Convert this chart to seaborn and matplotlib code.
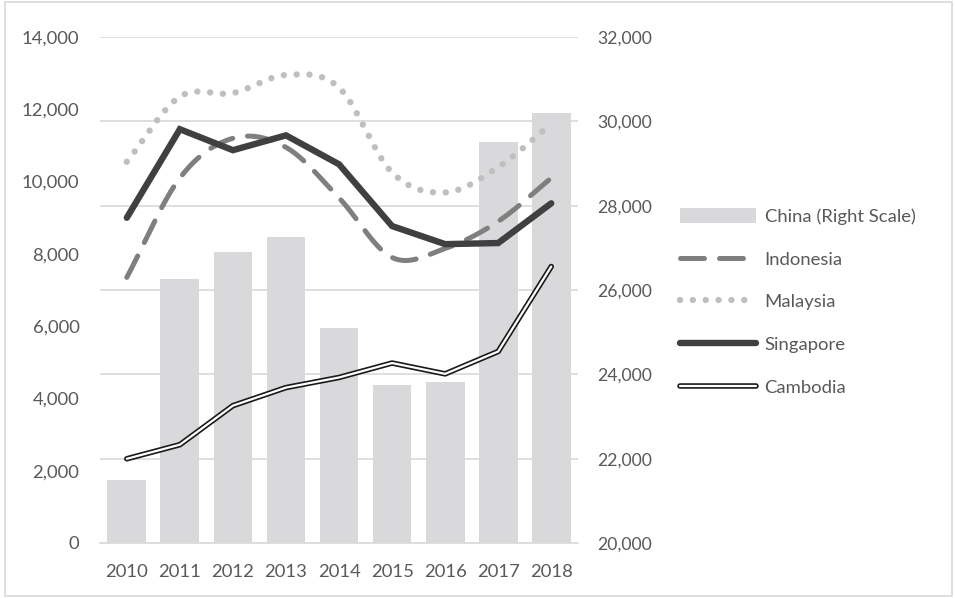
import numpy as np
import pandas as pd
import matplotlib
matplotlib.use("Agg")
import matplotlib.pyplot as plt
import matplotlib.patheffects as pe
from matplotlib.lines import Line2D
from matplotlib.patches import Patch, Rectangle
import seaborn as sns

years = ["2010", "2011", "2012", "2013", "2014", "2015", "2016", "2017", "2018"]
china = [21500, 26250, 26900, 27250, 25100, 23750, 23820, 29500, 30200]
indonesia = [7350, 10100, 11200, 10950, 9550, 7900, 8150, 8900, 10100]
malaysia = [10550, 12350, 12450, 12950, 12600, 10250, 9700, 10400, 11600]
singapore = [9000, 11450, 10870, 11280, 10480, 8770, 8270, 8300, 9400]
cambodia = [2330, 2720, 3800, 4300, 4580, 4980, 4680, 5300, 7650]

left_ticks = [0, 2000, 4000, 6000, 8000, 10000, 12000, 14000]
right_ticks = [20000, 22000, 24000, 26000, 28000, 30000, 32000]

TEXT = "#595959"
GRID = "#d9d9d9"
FS = 13.3

sns.set_theme(style="white")
plt.rcParams["font.family"] = ["Lato", "DejaVu Sans"]


def smooth_path(xs, ys, steps=24):
    """Catmull-Rom curve through the given points (used for smoothed series)."""
    xs = np.asarray(xs, float)
    ys = np.asarray(ys, float)
    px = np.concatenate([[2 * xs[0] - xs[1]], xs, [2 * xs[-1] - xs[-2]]])
    py = np.concatenate([[2 * ys[0] - ys[1]], ys, [2 * ys[-1] - ys[-2]]])
    ox, oy = [], []
    for i in range(1, len(px) - 2):
        t = np.linspace(0, 1, steps, endpoint=(i == len(px) - 3))
        for arr, out in ((px, ox), (py, oy)):
            p0, p1, p2, p3 = arr[i - 1], arr[i], arr[i + 1], arr[i + 2]
            out.extend(0.5 * ((2 * p1) + (-p0 + p2) * t
                              + (2 * p0 - 5 * p1 + 4 * p2 - p3) * t ** 2
                              + (-p0 + 3 * p1 - 3 * p2 + p3) * t ** 3))
    return np.array(ox), np.array(oy)


fig = plt.figure(figsize=(9.55, 5.98), dpi=100)
ax = fig.add_axes([0.105, 0.092, 0.5, 0.846])
ax2 = ax.twinx()

# China bars on the right-hand scale
df_bar = pd.DataFrame({"year": years, "value": china})
sns.barplot(data=df_bar, x="year", y="value", ax=ax2, color="#d9d9db",
            saturation=1, width=0.73, edgecolor="none")
ax2.set_ylim(20000, 32000)
ax2.set_yticks(right_ticks)
ax2.set_yticklabels([f"{v:,}" for v in right_ticks])

# line series on the left-hand scale
pos = np.arange(len(years))
ix, iy = smooth_path(pos, indonesia)
mx, my = smooth_path(pos, malaysia)

sns.lineplot(x=ix, y=iy, ax=ax, sort=False, color="#7f7f7f", lw=3.6,
             estimator=None)
ax.lines[-1].set_dashes([4.8, 3.0])
ax.lines[-1].set_dash_capstyle("round")
sns.lineplot(x=mx, y=my, ax=ax, sort=False, color="#bfbfbf", lw=4.6,
             estimator=None)
ax.lines[-1].set_dashes([0.01, 2.0])
ax.lines[-1].set_dash_capstyle("round")
sns.lineplot(x=pos, y=singapore, ax=ax, sort=False, color="#404040", lw=4.6,
             estimator=None)
ax.lines[-1].set_solid_capstyle("round")
ax.lines[-1].set_solid_joinstyle("miter")
sns.lineplot(x=pos, y=cambodia, ax=ax, sort=False, color="white", lw=1.6,
             estimator=None)
double = [pe.Stroke(linewidth=4.0, foreground="#1a1a1a"), pe.Normal()]
ax.lines[-1].set_path_effects(double)

ax.set_ylim(0, 14000)
ax.set_yticks(left_ticks)
ax.set_yticklabels([f"{v:,}" for v in left_ticks])
ax.set_xlim(-0.5, len(years) - 0.5)
ax.set_xticks(pos)
ax.set_xticklabels(years)
ax.grid(False)
ax2.grid(False)
for a in (ax, ax2):
    a.set_xlabel("")
    a.set_ylabel("")
    for s in a.spines.values():
        s.set_visible(False)
ax.spines["bottom"].set_visible(True)
ax.spines["bottom"].set_color(GRID)
ax.spines["bottom"].set_linewidth(1.2)

ax.tick_params(axis="y", length=0, pad=15, labelsize=FS, labelcolor=TEXT)
ax.tick_params(axis="x", length=0, pad=15, labelsize=FS, labelcolor=TEXT)
ax2.tick_params(axis="y", length=0, pad=14, labelsize=FS - 0.6, labelcolor=TEXT)

# lines above the bars; gridlines beneath the bars
ax.set_zorder(ax2.get_zorder() + 1)
ax.patch.set_visible(False)
fig.patch.set_facecolor("white")
for v in right_ticks:
    ax2.axhline(v, color=GRID, lw=1.2, zorder=0)
for b in ax2.patches:
    b.set_zorder(2)

handles = [
    Patch(facecolor="#d9d9db", edgecolor="none"),
    Line2D([], [], color="#7f7f7f", lw=3.6, dashes=[4.8, 3.0],
           dash_capstyle="round"),
    Line2D([], [], color="#bfbfbf", lw=4.6, dashes=[0.01, 2.0],
           dash_capstyle="round"),
    Line2D([], [], color="#404040", lw=4.6, solid_capstyle="round"),
    Line2D([], [], color="white", lw=1.6, path_effects=double),
]
labels = ["China (Right Scale)", "Indonesia", "Malaysia", "Singapore", "Cambodia"]
leg = fig.legend(handles, labels, loc="upper left",
                 bbox_to_anchor=(0.702, 0.667), frameon=False,
                 fontsize=FS, handlelength=4.15, handleheight=0.85,
                 handletextpad=0.45, labelspacing=1.4, borderpad=0)
for t in leg.get_texts():
    t.set_color(TEXT)

fig.add_artist(Rectangle((0.005, 0.004), 0.992, 0.992, transform=fig.transFigure,
                         fill=False, edgecolor="#d9d9d9", lw=1.2))

fig.savefig("out.png", dpi=100)
